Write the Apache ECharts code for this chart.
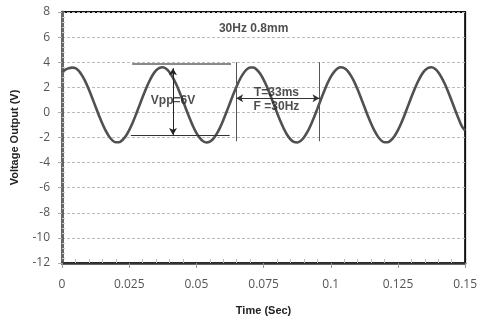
<!DOCTYPE html>
<html><head><meta charset="utf-8">
<script src="https://cdn.jsdelivr.net/npm/echarts@6/dist/echarts.min.js"></script>
<style>html,body{margin:0;padding:0;background:#fff}#c{width:480px;height:321px}</style>
</head><body><div id="c"></div>
<script>
var times = [0,0.00125,0.0025,0.00375,0.005,0.00625,0.0075,0.00875,0.01,0.01125,0.0125,0.01375,0.015,0.01625,0.0175,0.01875,0.02,0.02125,0.0225,0.02375,0.025,0.02625,0.0275,0.02875,0.03,0.03125,0.0325,0.03375,0.035,0.03625,0.0375,0.03875,0.04,0.04125,0.0425,0.04375,0.045,0.04625,0.0475,0.04875,0.05,0.05125,0.0525,0.05375,0.055,0.05625,0.0575,0.05875,0.06,0.06125,0.0625,0.06375,0.065,0.06625,0.0675,0.06875,0.07,0.07125,0.0725,0.07375,0.075,0.07625,0.0775,0.07875,0.08,0.08125,0.0825,0.08375,0.085,0.08625,0.0875,0.08875,0.09,0.09125,0.0925,0.09375,0.095,0.09625,0.0975,0.09875,0.1,0.10125,0.1025,0.10375,0.105,0.10625,0.1075,0.10875,0.11,0.11125,0.1125,0.11375,0.115,0.11625,0.1175,0.11875,0.12,0.12125,0.1225,0.12375,0.125,0.12625,0.1275,0.12875,0.13,0.13125,0.1325,0.13375,0.135,0.13625,0.1375,0.13875,0.14,0.14125,0.1425,0.14375,0.145,0.14625,0.1475,0.14875,0.15];
var volts = [3.20,3.40,3.52,3.57,3.53,3.31,2.93,2.43,1.82,1.15,0.45,-0.25,-0.89,-1.46,-1.91,-2.23,-2.38,-2.38,-2.20,-1.88,-1.41,-0.84,-0.18,0.52,1.22,1.89,2.48,2.98,3.34,3.55,3.60,3.48,3.20,2.78,2.24,1.61,0.92,0.21,-0.47,-1.10,-1.63,-2.03,-2.30,-2.40,-2.33,-2.11,-1.73,-1.23,-0.62,0.05,0.75,1.45,2.09,2.66,3.11,3.43,3.58,3.58,3.40,3.08,2.61,2.04,1.38,0.68,-0.02,-0.69,-1.28,-1.78,-2.14,-2.35,-2.40,-2.28,-2.00,-1.58,-1.04,-0.41,0.28,0.99,1.67,2.30,2.83,3.23,3.50,3.60,3.53,3.31,2.93,2.43,1.82,1.15,0.45,-0.25,-0.89,-1.46,-1.91,-2.23,-2.38,-2.38,-2.20,-1.88,-1.41,-0.84,-0.18,0.52,1.22,1.89,2.48,2.98,3.34,3.55,3.60,3.48,3.20,2.78,2.24,1.61,0.92,0.21,-0.47,-1.10,-1.45];
var xTicks = ['0','0.025','0.05','0.075','0.1','0.125','0.15'];
var yTicks = ['-12','-10','-8','-6','-4','-2','0','2','4','6','8'];
var xTitle = 'Time (Sec)';
var yTitle = 'Voltage Output (V)';
// annotations (data coordinates)
var noteTexts = ['30Hz 0.8mm','Vpp=6V','T=33ms','F =30Hz'];
var noteX = [0.0713,0.0413,0.0798,0.0798];
var noteY = [6.65,0.95,1.57,0.47];
// lines: [x1,y1,x2,y2,arrows]
var annLines = [
  [0.0261,3.9,0.0629,3.9,0],
  [0.0256,-1.85,0.0624,-1.85,0],
  [0.0413,3.52,0.0413,-1.8,1],
  [0.0648,4.0,0.0648,-2.3,0],
  [0.0958,4.0,0.0958,-2.3,0],
  [0.0648,1.12,0.0958,1.12,1]
];
var lineColors = ['#8a8a8a','#333','#222','#555','#555','#333'];
var lineWidths = [2,1,1,1,1,1.2];

var chart = echarts.init(document.getElementById('c'), null, {renderer:'canvas'});
var lbl = {color:'#555', fontSize:12, fontFamily:'Open Sans'};
var mlData = annLines.map(function(l,i){
  var s = l[4] ? 'arrow' : 'none';
  return [
    {coord:[l[0],l[1]], symbol:s, symbolSize:[6,7], lineStyle:{color:lineColors[i], width:lineWidths[i], type:'solid'}},
    {coord:[l[2],l[3]], symbol:s, symbolSize:[6,7]}
  ];
});
chart.setOption({
  animation:false,
  grid:{left:62,right:10,top:12,bottom:58,show:true,borderColor:'#111',borderWidth:2,backgroundColor:'transparent'},
  xAxis:[{
    type:'value',min:0,max:0.15,interval:0.025,
    name:xTitle,nameLocation:'middle',nameGap:42,
    nameTextStyle:{fontWeight:'bold',fontSize:11,color:'#222',fontFamily:'Liberation Sans'},
    axisLine:{show:true,onZero:false,lineStyle:{color:'#333',width:2.5}},
    axisTick:{show:true,inside:false,length:5,lineStyle:{color:'#999'}},
    axisLabel:Object.assign({margin:16,formatter:function(v,i){return xTicks[i];}},lbl),
    splitLine:{show:false}
  },{
    type:'value',min:0,max:0.15,interval:0.025,position:'bottom',
    axisLine:{show:false,onZero:false},axisTick:{show:false,inside:true},axisLabel:{show:false},
    minorTick:{show:true,splitNumber:5,length:4,lineStyle:{color:'#bbb'}},
    splitLine:{show:false}
  }],
  yAxis:[{
    type:'value',min:-12,max:8,interval:2,
    name:yTitle,nameLocation:'middle',nameGap:42,
    nameTextStyle:{fontWeight:'bold',fontSize:11,color:'#222',fontFamily:'Liberation Sans'},
    axisLine:{show:true,onZero:false,lineStyle:{color:'#666',width:3}},
    axisTick:{show:true,inside:false,length:4,lineStyle:{color:'#aaa'}},
    axisLabel:Object.assign({margin:12,formatter:function(v,i){return yTicks[i];}},lbl),
    splitLine:{show:true,lineStyle:{color:'#bbb',type:[3,2],width:1}}
  },{
    type:'value',min:-12,max:8,interval:2,position:'left',
    axisLine:{show:false,onZero:false},axisTick:{show:false,inside:true},axisLabel:{show:false},
    minorTick:{show:true,splitNumber:5,length:3,lineStyle:{color:'#ccc'}},
    splitLine:{show:false}
  }],
  series:[{
    type:'line',xAxisIndex:0,yAxisIndex:0,
    data:times.map(function(t,i){return [t,volts[i]];}),
    smooth:0.3,showSymbol:false,symbol:'none',
    lineStyle:{color:'#505050',width:2.6},
    markLine:{silent:true,symbol:['none','none'],label:{show:false},animation:false,data:mlData},
    z:3
  },{
    type:'scatter',xAxisIndex:0,yAxisIndex:0,symbolSize:0,silent:true,
    data:noteX.map(function(x,i){return [x,noteY[i],noteTexts[i]];}),
    label:{show:true,position:'inside',formatter:function(p){return p.data[2];},
      color:'#222',fontSize:12,fontWeight:'bold',fontFamily:'Liberation Sans'},
    z:5
  }]
});
</script></body></html>
